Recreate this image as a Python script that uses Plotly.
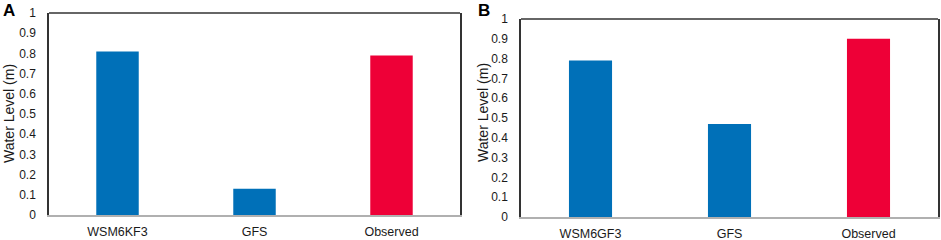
import plotly.graph_objects as go

categories_a = ["WSM6KF3", "GFS", "Observed"]
values_a = [0.81, 0.13, 0.79]
categories_b = ["WSM6GF3", "GFS", "Observed"]
values_b = [0.79, 0.47, 0.90]
bar_colors = ["#0070b8", "#0070b8", "#ee0037"]
y_tick_vals = [0, 0.1, 0.2, 0.3, 0.4, 0.5, 0.6, 0.7, 0.8, 0.9, 1]
y_tick_text = ["0", "0.1", "0.2", "0.3", "0.4", "0.5", "0.6", "0.7", "0.8", "0.9", "1"]
y_title = "Water Level (m)"

W, H = 941, 240
font = "Liberation Sans, Arial, sans-serif"

fig = go.Figure()
fig.add_trace(go.Bar(x=categories_a, y=values_a, marker=dict(color=bar_colors, line=dict(width=0)),
                     width=0.31, xaxis="x", yaxis="y", showlegend=False))
fig.add_trace(go.Bar(x=categories_b, y=values_b, marker=dict(color=bar_colors, line=dict(width=0)),
                     width=0.31, xaxis="x2", yaxis="y2", showlegend=False))

def xa(dom):
    return dict(domain=dom, range=[-0.5, 2.5], showline=True, linecolor="#b0b0b0", linewidth=1.5,
                ticks="outside", ticklen=4, tickcolor="rgba(0,0,0,0)", showgrid=False, automargin=False,
                tickfont=dict(family=font, size=12.5, color="#1a1a1a"), fixedrange=True)

def ya(dom, anchor):
    return dict(domain=dom, anchor=anchor, range=[0, 1], tickvals=y_tick_vals, ticktext=y_tick_text,
                showline=True, mirror=True, linecolor="#333333", linewidth=1.5, showgrid=False, zeroline=False,
                ticks="outside", ticklen=9, tickcolor="rgba(0,0,0,0)", automargin=False,
                tickfont=dict(family=font, size=12, color="#1a1a1a"), fixedrange=True)

def px_y(y):
    return 1 - y / H

def px_x(x):
    return x / W

fig.update_layout(
    width=W, height=H, margin=dict(l=0, r=0, t=0, b=0, autoexpand=False),
    paper_bgcolor="white", plot_bgcolor="white",
    xaxis=dict(**xa([49 / W, 460 / W]), anchor="y"),
    yaxis=ya([(H - 215) / H, (H - 13) / H], "x"),
    xaxis2=dict(**xa([521 / W, 938 / W]), anchor="y2"),
    yaxis2=ya([(H - 217) / H, (H - 19) / H], "x2"),
    shapes=[
        dict(type="line", xref="x domain", yref="y domain", x0=0, x1=1, y0=1, y1=1,
             line=dict(color="#333333", width=1.5)),
        dict(type="line", xref="x2 domain", yref="y2 domain", x0=0, x1=1, y0=1, y1=1,
             line=dict(color="#333333", width=1.5)),
    ],
    annotations=[
        dict(text="<b>A</b>", x=px_x(9), y=px_y(11), xref="paper", yref="paper", xanchor="center", yanchor="middle",
             showarrow=False, font=dict(family=font, size=17, color="black")),
        dict(text="<b>B</b>", x=px_x(484), y=px_y(11), xref="paper", yref="paper", xanchor="center", yanchor="middle",
             showarrow=False, font=dict(family=font, size=17, color="black")),
        dict(text=y_title, x=px_x(9), y=px_y(114), xref="paper", yref="paper", xanchor="center", yanchor="middle",
             textangle=-90, showarrow=False, font=dict(family=font, size=14, color="#1a1a1a")),
        dict(text=y_title, x=px_x(483), y=px_y(113), xref="paper", yref="paper", xanchor="center", yanchor="middle",
             textangle=-90, showarrow=False, font=dict(family=font, size=14, color="#1a1a1a")),
    ],
)

fig.write_html("out.html", config={"displayModeBar": False},
               post_script="document.body.style.margin='0';document.body.style.overflow='hidden';")
